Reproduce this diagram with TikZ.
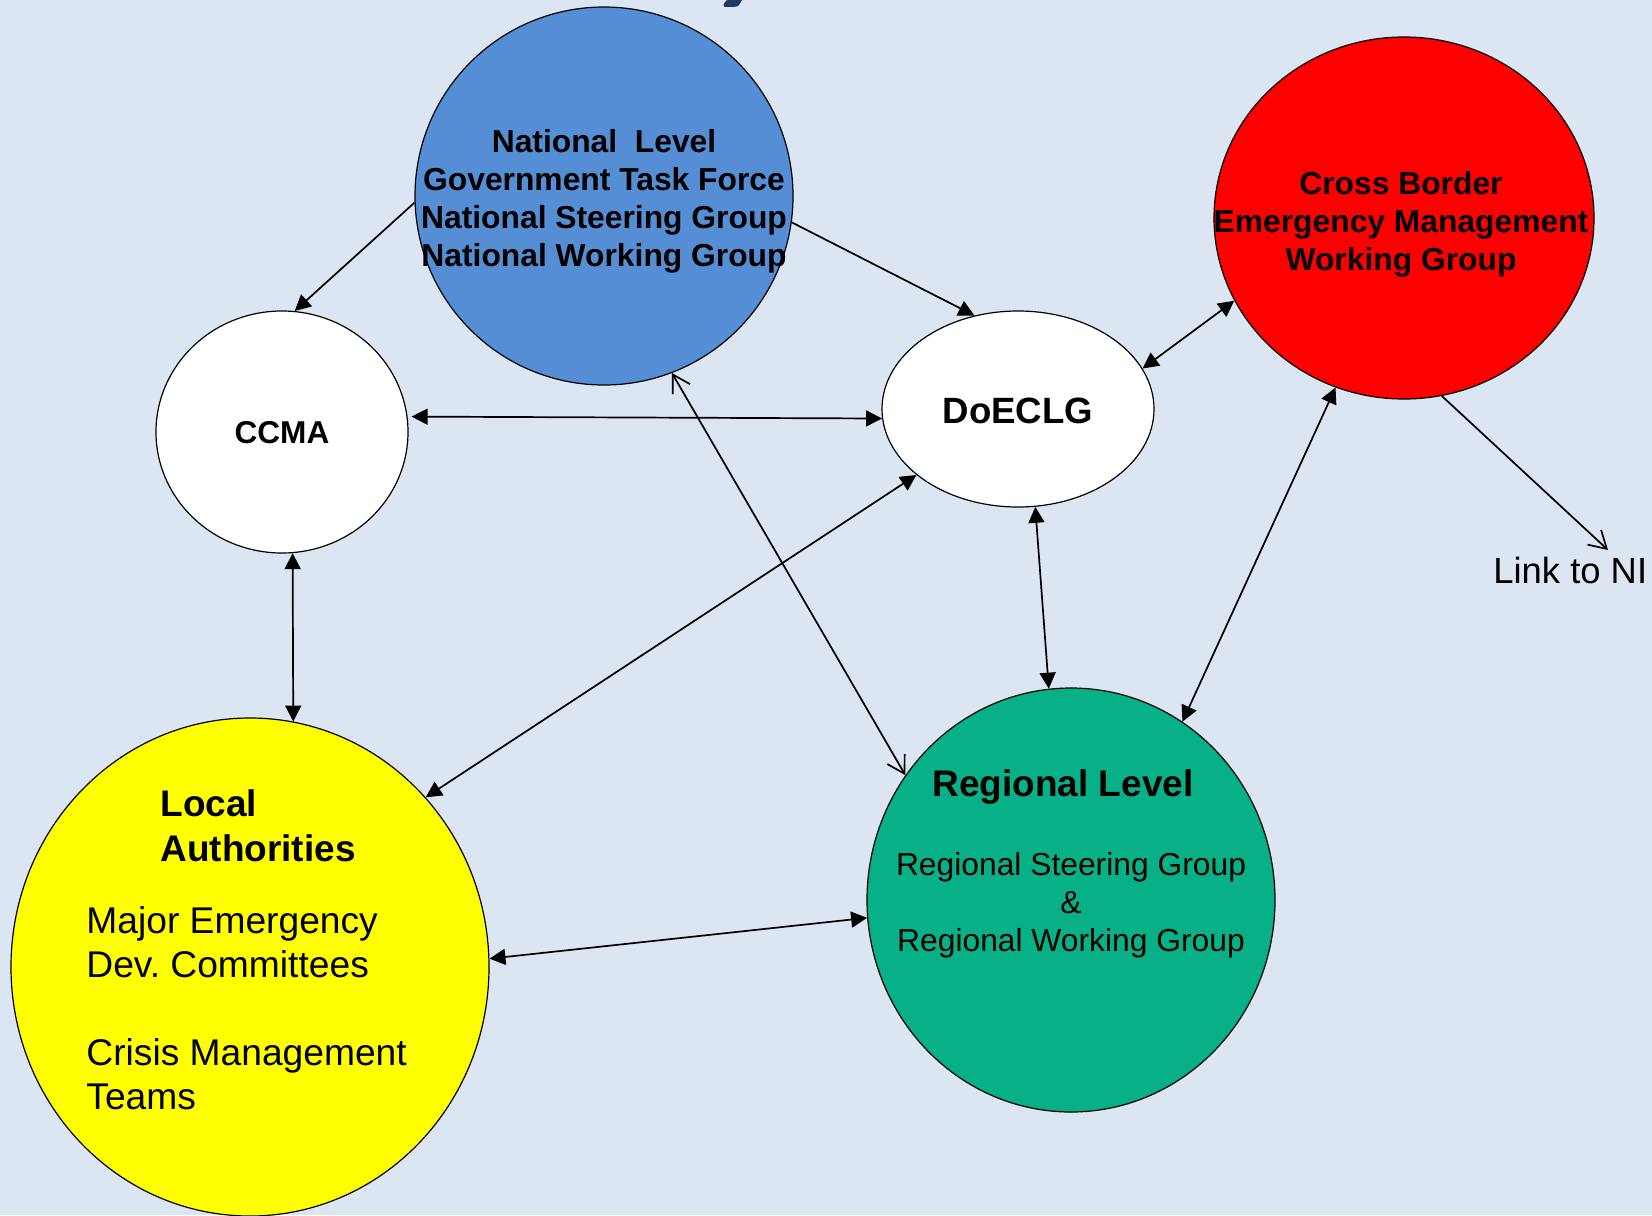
\documentclass[tikz,border=0pt]{standalone}
\usepackage{fontspec}
\setmainfont{Liberation Sans}
\usetikzlibrary{shapes.geometric,arrows.meta}

\definecolor{bgblue}{HTML}{DCE6F2}
\definecolor{natblue}{HTML}{558ED5}
\definecolor{regteal}{RGB}{7,176,134}
\definecolor{locyellow}{RGB}{255,255,0}
\definecolor{titlenavy}{HTML}{1F3864}

\tikzset{
  blob/.style={ellipse, draw=black, line width=0.6pt, inner sep=0pt},
  txt/.style={inner sep=0pt, align=center},
  link/.style={line width=0.85pt, {Triangle[length=8pt,width=8pt]}-{Triangle[length=8pt,width=8pt]}},
  onelink/.style={line width=0.85pt, -{Triangle[length=8pt,width=8pt]}},
  openlink/.style={line width=0.85pt, -{Straight Barb[length=8.5pt,width=10pt]}},
  openboth/.style={line width=0.85pt, {Straight Barb[length=8.5pt,width=10pt]}-{Straight Barb[length=8.5pt,width=10pt]}},
}

\begin{document}
\begin{tikzpicture}[x=0.5pt, y=-0.5pt]

% Background, same size as the slide
\fill[bgblue] (0,0) rectangle (1652,1215);
\useasboundingbox (0,0) rectangle (1652,1215);
\clip (0,0) rectangle (1652,1215);

% Bit of the title cut off at the top
\fill[titlenavy] (727,0) -- (742,0) -- (739,5) .. controls (738,7) and (734,7) .. (725,7)
  .. controls (722,6) and (724,3) .. (727,0) -- cycle;

% Circles
\node[blob, fill=natblue, minimum width=189pt, minimum height=189pt] (nat) at (604,196) {};
\node[blob, fill=white, minimum width=126pt, minimum height=121pt] (ccma) at (282,432) {};
\node[blob, fill=white, minimum width=136pt, minimum height=98pt] (doe) at (1018,409) {};
\node[blob, fill=red, minimum width=190pt, minimum height=181pt] (cross) at (1404,218) {};
\node[blob, fill=regteal, minimum width=204pt, minimum height=212pt] (reg) at (1071,900) {};
\node[blob, fill=locyellow, minimum width=239pt, minimum height=249pt] (loc) at (250,967) {};

% Texts
\node[txt, font=\fontsize{15.9}{19}\selectfont\bfseries] (nattxt) at (604,201)
  {National~~Level\\Government Task Force\\National Steering Group\\National Working Group};
\node[txt, font=\fontsize{15.8}{19}\selectfont\bfseries] (ccmatxt) at (282,433) {CCMA};
\node[txt, font=\fontsize{18.3}{22}\selectfont\bfseries] (doetxt) at (1018,411) {DoECLG};
\node[txt, font=\fontsize{15.9}{19}\selectfont\bfseries] (crosstxt) at (1401,224)
  {Cross Border\\Emergency Management\\Working Group};
\node[txt, font=\fontsize{18.5}{22}\selectfont\bfseries] (regtitle) at (1063,787) {Regional Level};
\node[txt, font=\fontsize{15.9}{19}\selectfont] (regtxt) at (1071,905)
  {Regional Steering Group\\\&\\Regional Working Group};
\node[txt, align=left, anchor=west, font=\fontsize{18.5}{22.5}\selectfont\bfseries] (loctitle) at (160,826)
  {Local\\Authorities};
\node[txt, align=left, anchor=west, font=\fontsize{18.6}{22}\selectfont] (loctxt) at (86,1008)
  {Major Emergency\\Dev.\ Committees\\[22pt]Crisis Management\\Teams};
\node[txt, anchor=west, font=\fontsize{18.2}{22}\selectfont] (ni) at (1493,570) {Link to NI};
\coordinate (nitip) at (1608,550);

% Links between the groups
\draw[onelink] (nat.182) -- (ccma.84);
\draw[onelink] (nat.352) -- (doe.115);
\draw[link, shorten <=2pt] (ccma.7) -- (doe.184);
\draw[link] (doe.18) -- (cross.206);
\draw[openboth] (nat.291) -- (reg.143);
\draw[link] (doe.213) -- (loc.44);
\draw[link] (ccma.275) -- (loc.80);
\draw[link] (doe.280) -- (reg.96);
\draw[link] (cross.248) -- (reg.58);
\draw[link] (loc.2) -- (reg.185);
\draw[openlink] (cross.282) -- (nitip);

\end{tikzpicture}
\end{document}
